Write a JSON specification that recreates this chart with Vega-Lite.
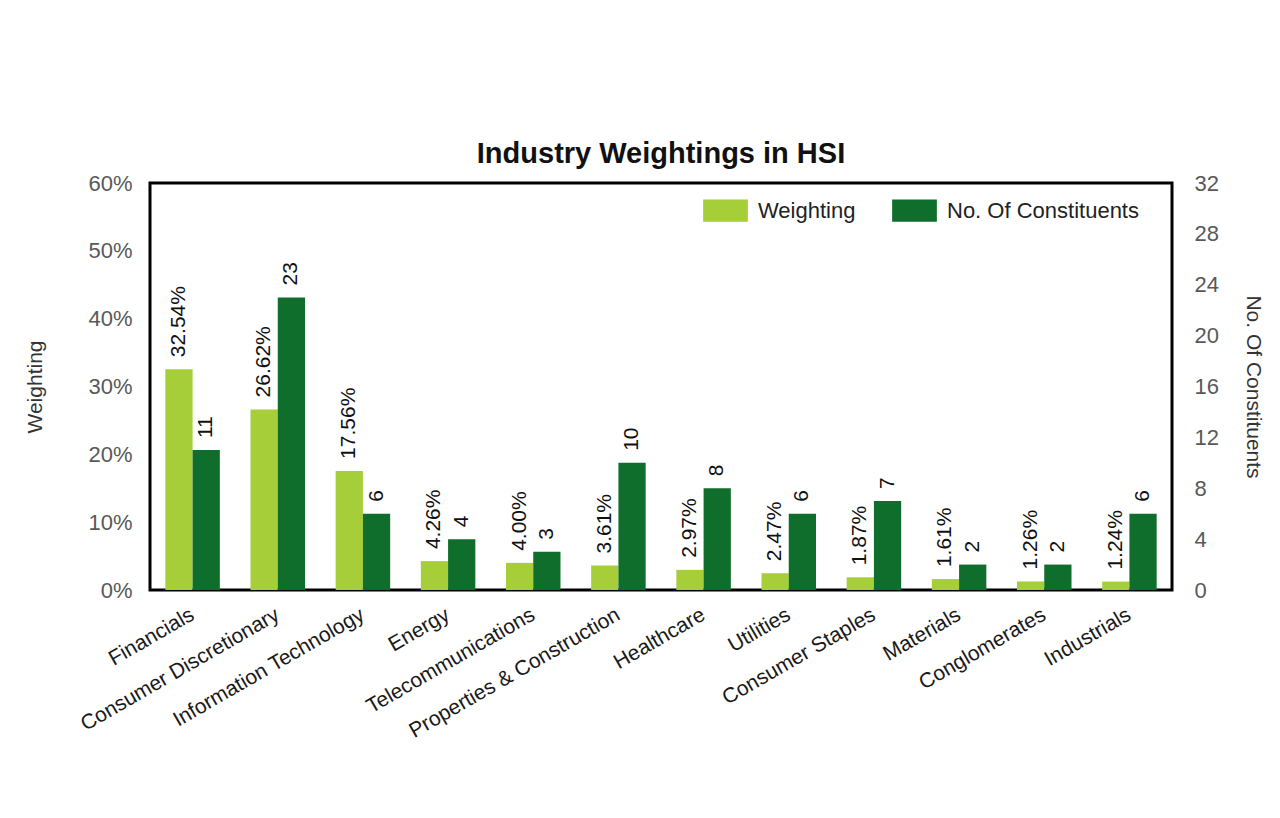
{
  "$schema": "https://vega.github.io/schema/vega-lite/v6.json",
  "autosize": "none",
  "width": 1022,
  "height": 407,
  "padding": {"left": 150, "top": 183, "right": 108, "bottom": 228},
  "background": "white",
  "title": {
    "text": "Industry Weightings in HSI",
    "font": "Liberation Sans",
    "fontSize": 29,
    "fontWeight": "bold",
    "color": "#111111",
    "offset": 3,
    "anchor": "middle"
  },
  "data": {
    "values": [
      {"industry": "Financials", "series": "Weighting", "value": 0.3254},
      {"industry": "Consumer Discretionary", "series": "Weighting", "value": 0.2662},
      {"industry": "Information Technology", "series": "Weighting", "value": 0.1756},
      {"industry": "Energy", "series": "Weighting", "value": 0.0426},
      {"industry": "Telecommunications", "series": "Weighting", "value": 0.0400},
      {"industry": "Properties & Construction", "series": "Weighting", "value": 0.0361},
      {"industry": "Healthcare", "series": "Weighting", "value": 0.0297},
      {"industry": "Utilities", "series": "Weighting", "value": 0.0247},
      {"industry": "Consumer Staples", "series": "Weighting", "value": 0.0187},
      {"industry": "Materials", "series": "Weighting", "value": 0.0161},
      {"industry": "Conglomerates", "series": "Weighting", "value": 0.0126},
      {"industry": "Industrials", "series": "Weighting", "value": 0.0124},
      {"industry": "Financials", "series": "No. Of Constituents", "value": 11},
      {"industry": "Consumer Discretionary", "series": "No. Of Constituents", "value": 23},
      {"industry": "Information Technology", "series": "No. Of Constituents", "value": 6},
      {"industry": "Energy", "series": "No. Of Constituents", "value": 4},
      {"industry": "Telecommunications", "series": "No. Of Constituents", "value": 3},
      {"industry": "Properties & Construction", "series": "No. Of Constituents", "value": 10},
      {"industry": "Healthcare", "series": "No. Of Constituents", "value": 8},
      {"industry": "Utilities", "series": "No. Of Constituents", "value": 6},
      {"industry": "Consumer Staples", "series": "No. Of Constituents", "value": 7},
      {"industry": "Materials", "series": "No. Of Constituents", "value": 2},
      {"industry": "Conglomerates", "series": "No. Of Constituents", "value": 2},
      {"industry": "Industrials", "series": "No. Of Constituents", "value": 6}
    ]
  },
  "encoding": {
    "x": {
      "field": "industry",
      "type": "nominal",
      "sort": null,
      "scale": {"paddingInner": 0.36, "paddingOuter": 0.18},
      "axis": {
        "title": null,
        "labelAngle": -30,
        "labelAlign": "right",
        "labelBaseline": "middle",
        "labelPadding": 23,
        "labelLimit": 0,
        "labelFont": "Liberation Sans",
        "labelFontSize": 21,
        "labelColor": "#1a1a1a",
        "domain": false,
        "ticks": false
      }
    },
    "xOffset": {
      "field": "series",
      "type": "nominal",
      "scale": {"domain": ["Weighting", "No. Of Constituents"], "paddingInner": 0, "paddingOuter": 0}
    }
  },
  "layer": [
    {
      "transform": [{"filter": "datum.series === 'Weighting'"}],
      "encoding": {
        "y": {
          "field": "value",
          "type": "quantitative",
          "scale": {"domain": [0, 0.6], "nice": false},
          "axis": {
            "orient": "left",
            "title": "Weighting",
            "format": ".0%",
            "values": [0, 0.1, 0.2, 0.3, 0.4, 0.5, 0.6],
            "grid": false,
            "domain": false,
            "ticks": false,
            "labelPadding": 18,
            "labelFont": "Liberation Sans",
            "labelFontSize": 22,
            "labelColor": "#595959",
            "titleFont": "Liberation Sans",
            "titleFontSize": 21,
            "titleFontWeight": "normal",
            "titleColor": "#333333",
            "titlePadding": 42
          }
        }
      },
      "layer": [
        {
          "mark": {"type": "bar"},
          "encoding": {
            "color": {
              "field": "series",
              "type": "nominal",
              "scale": {"domain": ["Weighting", "No. Of Constituents"], "range": ["#a6ce39", "#0f6e2b"]},
              "legend": {
                "title": null,
                "orient": "none",
                "legendX": 553,
                "legendY": 5,
                "direction": "horizontal",
                "symbolType": "M-1,-0.5H1V0.5H-1Z",
                "symbolSize": 2000,
                "symbolStrokeWidth": 0,
                "symbolOpacity": 1,
                "labelFont": "Liberation Sans",
                "labelFontSize": 22,
                "labelColor": "#222222",
                "labelOffset": 10,
                "labelLimit": 0,
                "columnPadding": 36,
                "padding": 0
              }
            }
          }
        },
        {
          "mark": {"type": "text", "angle": -90, "align": "left", "baseline": "middle", "dx": 12, "font": "Liberation Sans", "fontSize": 21, "color": "#111111"},
          "encoding": {
            "text": {"field": "value", "type": "quantitative", "format": ".2%"}
          }
        }
      ]
    },
    {
      "transform": [{"filter": "datum.series === 'No. Of Constituents'"}],
      "encoding": {
        "y": {
          "field": "value",
          "type": "quantitative",
          "scale": {"domain": [0, 32], "nice": false},
          "axis": {
            "orient": "right",
            "title": "No. Of Constituents",
            "values": [0, 4, 8, 12, 16, 20, 24, 28, 32],
            "grid": false,
            "domain": false,
            "ticks": false,
            "labelPadding": 22,
            "labelFont": "Liberation Sans",
            "labelFontSize": 22,
            "labelColor": "#595959",
            "titleFont": "Liberation Sans",
            "titleFontSize": 21,
            "titleFontWeight": "normal",
            "titleColor": "#333333",
            "titlePadding": 24
          }
        }
      },
      "layer": [
        {
          "mark": {"type": "bar"},
          "encoding": {
            "color": {"field": "series", "type": "nominal"}
          }
        },
        {
          "mark": {"type": "text", "angle": -90, "align": "left", "baseline": "middle", "dx": 12, "font": "Liberation Sans", "fontSize": 21, "color": "#111111"},
          "encoding": {
            "text": {"field": "value", "type": "quantitative", "format": "d"}
          }
        }
      ]
    }
  ],
  "resolve": {"scale": {"y": "independent"}},
  "config": {
    "view": {"stroke": "#000000", "strokeWidth": 3}
  }
}
